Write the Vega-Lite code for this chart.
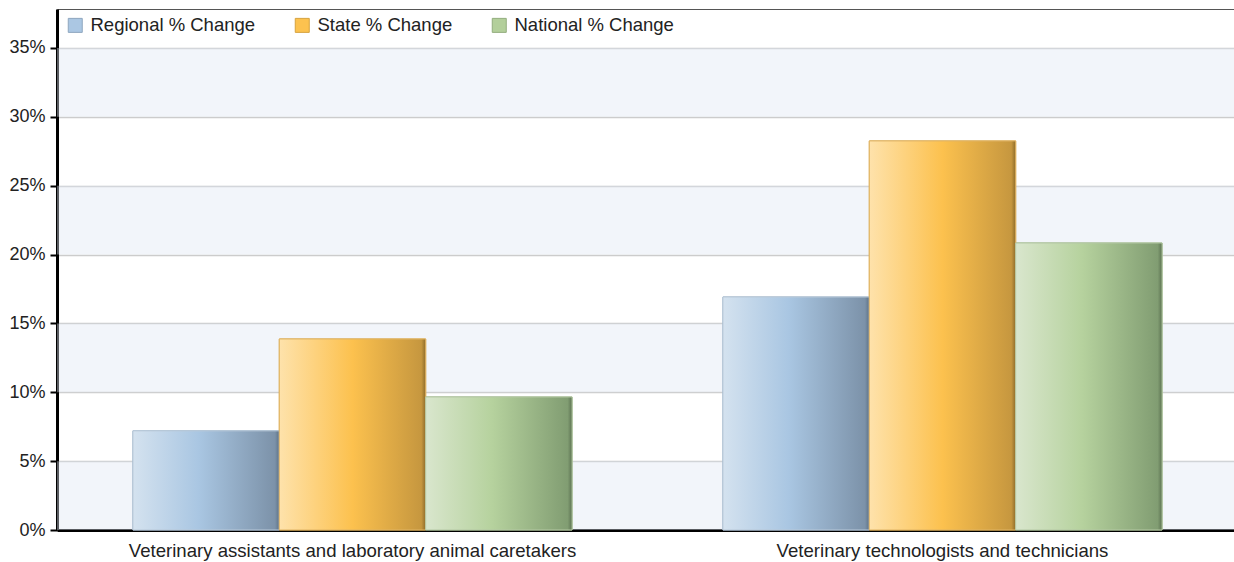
{
  "$schema": "https://vega.github.io/schema/vega-lite/v6.json",
  "width": 1181,
  "height": 521,
  "autosize": "none",
  "padding": {"left": 57, "top": 9, "right": 2, "bottom": 32},
  "background": "white",
  "config": {
    "view": {"stroke": "#555555", "strokeWidth": 1},
    "font": "Liberation Sans",
    "axis": {"labelFont": "Liberation Sans", "labelColor": "#222222", "domainColor": "#000000", "domainWidth": 3, "labelLimit": 800},
    "axisY": {
      "labelFontSize": 18, "labelPadding": 5, "tickSize": 7, "tickWidth": 2, "tickColor": "#000000",
      "gridColor": "#cccccc", "gridWidth": 1.5
    },
    "axisX": {"labelFontSize": 18.6, "labelPadding": 11, "ticks": false, "labelAngle": 0},
    "legend": {"labelFont": "Liberation Sans"}
  },
  "datasets": {
    "bars": [
      {"occupation": "Veterinary assistants and laboratory animal caretakers", "series": "Regional % Change", "value": 0.072},
      {"occupation": "Veterinary assistants and laboratory animal caretakers", "series": "State % Change", "value": 0.1387},
      {"occupation": "Veterinary assistants and laboratory animal caretakers", "series": "National % Change", "value": 0.0966},
      {"occupation": "Veterinary technologists and technicians", "series": "Regional % Change", "value": 0.1692},
      {"occupation": "Veterinary technologists and technicians", "series": "State % Change", "value": 0.2825},
      {"occupation": "Veterinary technologists and technicians", "series": "National % Change", "value": 0.2084}
    ],
    "bands": [
      {"low": 0, "high": 0.05},
      {"low": 0.10, "high": 0.15},
      {"low": 0.20, "high": 0.25},
      {"low": 0.30, "high": 0.35}
    ]
  },
  "layer": [
    {
      "data": {"name": "bands"},
      "mark": {"type": "rect", "fill": "#dfe7f2", "opacity": 0.4},
      "encoding": {
        "y": {
          "field": "low", "type": "quantitative",
          "scale": {"domain": [0, 0.3783], "nice": false, "zero": true},
          "axis": {
            "title": null,
            "values": [0, 0.05, 0.1, 0.15, 0.2, 0.25, 0.3, 0.35],
            "format": ".0%"
          }
        },
        "y2": {"field": "high"}
      }
    },
    {
      "data": {"name": "bars"},
      "mark": {"type": "bar", "strokeWidth": 1},
      "encoding": {
        "x": {
          "field": "occupation", "type": "nominal",
          "scale": {"paddingInner": 0.2557, "paddingOuter": 0.1287},
          "axis": {"title": null, "labelLimit": 800}
        },
        "xOffset": {
          "field": "series", "type": "nominal",
          "scale": {"domain": ["Regional % Change", "State % Change", "National % Change"], "paddingInner": 0, "paddingOuter": 0}
        },
        "y": {"field": "value", "type": "quantitative"},
        "color": {
          "field": "series", "type": "nominal",
          "scale": {"domain": ["Regional % Change", "State % Change", "National % Change"], "range": ["#abc7e3", "#fcc24f", "#b3cf9b"]},
          "legend": {
            "title": null, "orient": "none", "direction": "horizontal",
            "legendX": 9, "legendY": 7,
            "symbolType": "square", "symbolSize": 196, "symbolStrokeWidth": 1, "symbolOpacity": 1,
            "labelFontSize": 18.5, "labelOffset": 6, "labelColor": "#222222", "labelLimit": 400,
            "columnPadding": 37
          }
        },
        "stroke": {
          "field": "series", "type": "nominal",
          "scale": {"domain": ["Regional % Change", "State % Change", "National % Change"], "range": ["#8ea6bf", "#d6a23f", "#93ad7e"]}
        }
      }
    },
    {
      "data": {"name": "bars"},
      "transform": [{"filter": "datum.series === 'Regional % Change'"}],
      "mark": {
        "type": "bar", "stroke": "#b9c9d8", "strokeWidth": 1,
        "color": {"gradient": "linear", "x1": 0, "x2": 1, "y1": 0, "y2": 0,
          "stops": [
            {"offset": 0, "color": "#d4e2ef"},
            {"offset": 0.45, "color": "#a9c6e2"},
            {"offset": 0.97, "color": "#7c92a9"},
            {"offset": 1, "color": "#5d7287"}
          ]}
      },
      "encoding": {
        "x": {"field": "occupation", "type": "nominal"},
        "xOffset": {"field": "series", "type": "nominal"},
        "y": {"field": "value", "type": "quantitative"}
      }
    },
    {
      "data": {"name": "bars"},
      "transform": [{"filter": "datum.series === 'State % Change'"}],
      "mark": {
        "type": "bar", "stroke": "#e0b465", "strokeWidth": 1,
        "color": {"gradient": "linear", "x1": 0, "x2": 1, "y1": 0, "y2": 0,
          "stops": [
            {"offset": 0, "color": "#fee2ab"},
            {"offset": 0.5, "color": "#fcc14e"},
            {"offset": 0.97, "color": "#c6973f"},
            {"offset": 1, "color": "#8f6d2b"}
          ]}
      },
      "encoding": {
        "x": {"field": "occupation", "type": "nominal"},
        "xOffset": {"field": "series", "type": "nominal"},
        "y": {"field": "value", "type": "quantitative"}
      }
    },
    {
      "data": {"name": "bars"},
      "transform": [{"filter": "datum.series === 'National % Change'"}],
      "mark": {
        "type": "bar", "stroke": "#b4c8a4", "strokeWidth": 1,
        "color": {"gradient": "linear", "x1": 0, "x2": 1, "y1": 0, "y2": 0,
          "stops": [
            {"offset": 0, "color": "#d9e6cd"},
            {"offset": 0.45, "color": "#b6d29e"},
            {"offset": 0.97, "color": "#819d72"},
            {"offset": 1, "color": "#5d7352"}
          ]}
      },
      "encoding": {
        "x": {"field": "occupation", "type": "nominal"},
        "xOffset": {"field": "series", "type": "nominal"},
        "y": {"field": "value", "type": "quantitative"}
      }
    }
  ]
}
